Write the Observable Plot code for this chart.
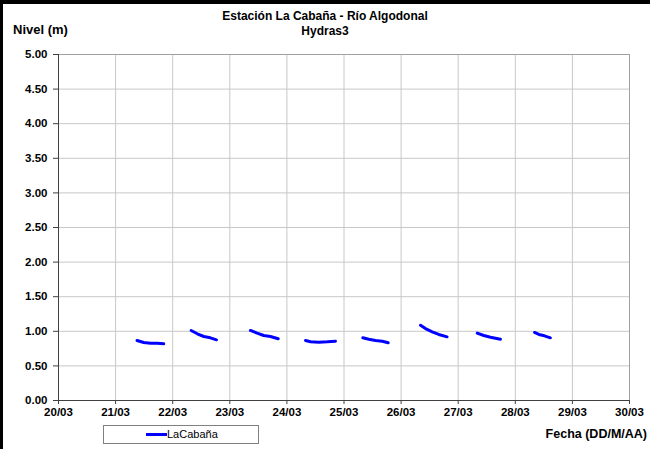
<!DOCTYPE html>
<html>
<head>
<meta charset="utf-8">
<script src="https://cdn.jsdelivr.net/npm/d3@7"></script>
<script src="https://cdn.jsdelivr.net/npm/@observablehq/plot@0.6"></script>
<style>
  html, body { margin: 0; padding: 0; background: #fff; }
  #wrap { position: relative; width: 650px; height: 449px; overflow: hidden; font-family: "Liberation Sans", Arial, sans-serif; }
  #wrap svg { position: absolute; left: 0; top: 0; }
  .ov { position: absolute; white-space: nowrap; font-weight: bold; color: #000; }
  #border { position: absolute; left: 0; top: 0; width: 650px; height: 449px; box-sizing: border-box; border-left: 3px solid #000; border-top: 4px solid #000; pointer-events: none; }
  #legend { position: absolute; left: 103px; top: 425px; width: 156px; height: 19px; box-sizing: border-box; border: 1px solid #808080; background: #fff; }
  #legend .sw { position: absolute; left: 42px; top: 7px; width: 21px; height: 3px; background: #0000ff; }
  #legend .lt { position: absolute; left: 63px; top: 1px; font-size: 11px; line-height: 14px; }
</style>
</head>
<body>
<div id="wrap"></div>
<script>
// ---- data ----
const title = "Estación La Cabaña - Río Algodonal";
const subtitle = "Hydras3";
const yLabel = "Nivel (m)";
const xLabel = "Fecha (DD/M/AA)";
const seriesName = "LaCabaña";

// time stamps of readings (UTC) and level in metres
const times = [
  "2011-03-21T09:00","2011-03-21T11:50","2011-03-21T14:40","2011-03-21T17:30","2011-03-21T20:15",
  "2011-03-22T07:45","2011-03-22T10:20","2011-03-22T13:05","2011-03-22T15:50","2011-03-22T18:25",
  "2011-03-23T08:40","2011-03-23T11:30","2011-03-23T14:15","2011-03-23T17:05","2011-03-23T20:20",
  "2011-03-24T07:50","2011-03-24T09:55","2011-03-24T13:25","2011-03-24T16:55","2011-03-24T20:25",
  "2011-03-25T07:55","2011-03-25T10:25","2011-03-25T13:15","2011-03-25T16:05","2011-03-25T18:35",
  "2011-03-26T08:10","2011-03-26T10:15","2011-03-26T13:05","2011-03-26T15:50","2011-03-26T19:20",
  "2011-03-27T08:00","2011-03-27T10:45","2011-03-27T13:35","2011-03-27T17:45",
  "2011-03-28T08:05","2011-03-28T09:55","2011-03-28T12:15","2011-03-28T14:45"
];
const levels = [
  0.867, 0.838, 0.828, 0.828, 0.819,
  1.012, 0.964, 0.925, 0.906, 0.877,
  1.012, 0.973, 0.939, 0.925, 0.892,
  0.867, 0.848, 0.843, 0.848, 0.857,
  0.906, 0.886, 0.867, 0.857, 0.834,
  1.088, 1.040, 0.993, 0.954, 0.920,
  0.973, 0.939, 0.915, 0.886,
  0.983, 0.954, 0.935, 0.906
];
const xTicks = ["2011-03-20","2011-03-21","2011-03-22","2011-03-23","2011-03-24","2011-03-25","2011-03-26","2011-03-27","2011-03-28","2011-03-29","2011-03-30"];
const yTicks = [0, 0.5, 1, 1.5, 2, 2.5, 3, 3.5, 4, 4.5, 5];

// ---- build ----
const parse = d3.utcParse("%Y-%m-%dT%H:%M");
const parseDay = d3.utcParse("%Y-%m-%d");
const data = times.map((t, i) => {
  const d = parse(t);
  return { date: d, level: levels[i], day: d3.utcFormat("%d")(d) };
});
const xt = xTicks.map(parseDay);

const chart = Plot.plot({
  width: 650,
  height: 449,
  marginLeft: 58,
  marginRight: 21,
  marginTop: 54,
  marginBottom: 49,
  style: { fontFamily: "'Liberation Sans', Arial, sans-serif", background: "transparent", overflow: "visible" },
  x: { type: "utc", domain: [xt[0], xt[xt.length - 1]] },
  y: { domain: [0, 5] },
  marks: [
    Plot.gridX(xt, { stroke: "#c8c8c8", strokeOpacity: 1 }),
    Plot.gridY(yTicks, { stroke: "#c8c8c8", strokeOpacity: 1 }),
    Plot.frame({ stroke: "#a0a0a0" }),
    Plot.ruleX([xt[0]], { stroke: "#404040" }),
    Plot.ruleY([0], { stroke: "#404040" }),
    Plot.axisY({ ticks: yTicks, tickFormat: d3.format(".2f"), tickSize: 5, tickPadding: 6, fontSize: 11.5, fontWeight: "bold", fill: "#000", stroke: "#404040", label: null }),
    Plot.axisX({ ticks: xt, tickFormat: d3.utcFormat("%d/%m"), tickSize: 4, tickPadding: 3, fontSize: 11.5, fontWeight: "bold", fill: "#000", stroke: "#404040", label: null }),
    Plot.line(data, { x: "date", y: "level", z: "day", stroke: "#0000ff", strokeWidth: 3, strokeLinecap: "round", strokeLinejoin: "round" })
  ]
});

const wrap = document.getElementById("wrap");
wrap.appendChild(chart);

function ov(text, css) {
  const d = document.createElement("div");
  d.className = "ov";
  d.textContent = text;
  Object.assign(d.style, css);
  wrap.appendChild(d);
  return d;
}
ov(title, { left: "0px", width: "650px", textAlign: "center", top: "9px", fontSize: "12px", lineHeight: "15px" });
ov(subtitle, { left: "0px", width: "650px", textAlign: "center", top: "24px", fontSize: "12px", lineHeight: "15px" });
ov(yLabel, { left: "13px", top: "22px", fontSize: "13px", lineHeight: "15px" });
ov(xLabel, { right: "3px", top: "427px", fontSize: "12.5px", lineHeight: "15px" });

const lg = document.createElement("div");
lg.id = "legend";
lg.innerHTML = '<div class="sw"></div><div class="lt"></div>';
lg.querySelector(".lt").textContent = seriesName;
wrap.appendChild(lg);

const b = document.createElement("div");
b.id = "border";
wrap.appendChild(b);
</script>
</body>
</html>
